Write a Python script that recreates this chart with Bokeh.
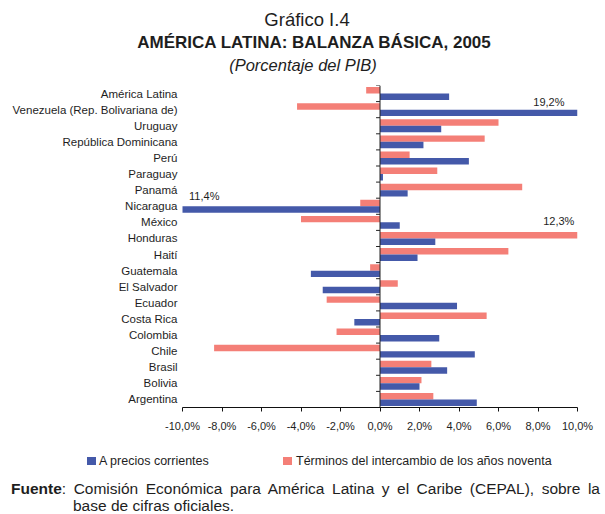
from bokeh.plotting import figure
from bokeh.layouts import column
from bokeh.models import Range1d, FixedTicker, Span, Label, ColumnDataSource, Div
from bokeh.embed import file_html
from bokeh.resources import INLINE

# ---------------- data ----------------
categories = ["América Latina", "Venezuela (Rep. Bolivariana de)", "Uruguay", "República Dominicana",
              "Perú", "Paraguay", "Panamá", "Nicaragua", "México", "Honduras", "Haití", "Guatemala",
              "El Salvador", "Ecuador", "Costa Rica", "Colombia", "Chile", "Brasil", "Bolivia", "Argentina"]
corrientes = [3.5, 19.2, 3.1, 2.2, 4.5, 0.15, 1.4, -11.4, 1.0, 2.8, 1.9, -3.5, -2.9, 3.9, -1.3, 3.0, 4.8, 3.4, 2.0, 4.9]
terminos = [-0.7, -4.2, 6.0, 5.3, 1.5, 2.9, 7.2, -1.0, -4.0, 12.3, 6.5, -0.5, 0.9, -2.7, 5.4, -2.2, -8.4, 2.6, 2.1, 2.7]
series_names = ["A precios corrientes", "Términos del intercambio de los años noventa"]
x_ticks = [-10, -8, -6, -4, -2, 0, 2, 4, 6, 8, 10]
x_tick_labels = ["-10,0%", "-8,0%", "-6,0%", "-4,0%", "-2,0%", "0,0%", "2,0%", "4,0%", "6,0%", "8,0%", "10,0%"]

title_lines = ["Gráfico I.4", "AMÉRICA LATINA: BALANZA BÁSICA, 2005", "(Porcentaje del PIB)"]
source_head = "Fuente"
source_lines = ["Comisión Económica para América Latina y el Caribe (CEPAL), sobre la",
                "base de cifras oficiales."]

# ---------------- style ----------------
BLUE = "#4459A9"
RED = "#F47F77"
FONT = "Liberation Sans"
TXT = "#1e1e1e"

W = 605
TOP_H = 85
FRAME_L, FRAME_W, FRAME_H = 182, 395, 322
MAIN_H = 355
BOT_H = 514 - TOP_H - MAIN_H


def line_div(left, top, width, size, text, align="left", extra=""):
    return ('<div style="position:absolute;left:%dpx;top:%.1fpx;width:%dpx;font-size:%spx;'
            'line-height:%spx;text-align:%s;white-space:nowrap;%s">%s</div>'
            % (left, top, width, size, size, align, extra, text))


def strip(h, inner):
    html = ('<div style="position:relative;width:%dpx;height:%dpx;overflow:hidden;'
            'font-family:\'%s\';color:%s;">%s</div>' % (W, h, FONT, TXT, inner))
    return Div(text=html, width=W, height=h, margin=0)


# ---------------- title strip ----------------
# top = baseline - 0.846 * font size (line-height = 1em)
top_inner = (
    line_div(7, 27 - 0.846 * 18.5, 600, 18.5, title_lines[0], "center") +
    line_div(14, 48.5 - 0.846 * 17, 600, 17, title_lines[1], "center", "font-weight:bold;") +
    line_div(3, 71 - 0.846 * 16.5, 600, 16.5, title_lines[2], "center", "font-style:italic;")
)
top = strip(TOP_H, top_inner)

# ---------------- main chart ----------------
n = len(categories)
idx = list(range(n))

p = figure(width=W, height=MAIN_H, output_backend="svg", toolbar_location=None,
           x_range=Range1d(-10, 10), y_range=Range1d(n - 0.5, -0.5),
           min_border_left=FRAME_L, min_border_top=0,
           min_border_right=W - FRAME_L - FRAME_W, min_border_bottom=MAIN_H - FRAME_H)
p.outline_line_color = None
p.grid.visible = False
p.background_fill_color = "white"
p.border_fill_color = "white"

src = ColumnDataSource(dict(
    y_red=[i - 0.2 for i in idx], y_blue=[i + 0.2 for i in idx],
    ter=terminos, cor=corrientes))
r_red = p.hbar(y="y_red", left=0, right="ter", height=0.4, fill_color=RED, line_color=None, source=src)
r_blue = p.hbar(y="y_blue", left=0, right="cor", height=0.4, fill_color=BLUE, line_color=None, source=src)

p.add_layout(Span(location=0, dimension="height", line_color="#222222", line_width=1))
bounds = [i - 0.5 for i in range(n + 1)]
p.segment(x0=[-0.2] * len(bounds), x1=[0] * len(bounds), y0=bounds, y1=bounds,
          line_color="#222222", line_width=1)

ya = p.yaxis[0]
ya.ticker = FixedTicker(ticks=idx)
ya.major_label_overrides = {i: c for i, c in zip(idx, categories)}
ya.axis_line_color = None
ya.major_tick_line_color = None
ya.major_tick_out = 0
ya.major_tick_in = 0
ya.minor_tick_line_color = None
ya.major_label_standoff = 5
ya.major_label_text_font = FONT
ya.major_label_text_font_size = "11.5px"
ya.major_label_text_color = TXT

xa = p.xaxis[0]
xa.ticker = FixedTicker(ticks=x_ticks)
xa.major_label_overrides = {t: l for t, l in zip(x_ticks, x_tick_labels)}
xa.axis_line_color = "#111111"
xa.major_tick_line_color = "#111111"
xa.major_tick_out = 4
xa.major_tick_in = 0
xa.minor_tick_line_color = None
xa.major_label_standoff = 8
xa.major_label_text_font = FONT
xa.major_label_text_font_size = "11px"
xa.major_label_text_color = TXT


def pct(v):
    return ("%.1f" % abs(v)).replace(".", ",") + "%"


off_labels = [
    (8.55, categories.index("Venezuela (Rep. Bolivariana de)") - 0.46, corrientes[1]),
    (9.05, categories.index("Honduras") - 1.07, terminos[9]),
    (-8.9, categories.index("Nicaragua") - 0.62, corrientes[7]),
]
for xv, yv, v in off_labels:
    p.add_layout(Label(x=xv, y=yv, text=pct(v), text_align="center", text_baseline="middle",
                       text_font=FONT, text_font_size="11px", text_color=TXT))

# ---------------- legend + source strip ----------------
Y0 = TOP_H + MAIN_H  # page y of this strip's top


def swatch(left, top, color):
    return ('<div style="position:absolute;left:%dpx;top:%dpx;width:9px;height:8px;background:%s;"></div>'
            % (left, top, color))


bot_inner = (
    swatch(87, 457 - Y0, BLUE) +
    line_div(99, 465.5 - Y0 - 0.846 * 12.5, 200, 12.5, series_names[0]) +
    swatch(283, 457 - Y0, RED) +
    line_div(296, 465.5 - Y0 - 0.846 * 12.5, 300, 12.5, series_names[1]) +
    line_div(11, 494 - Y0 - 0.846 * 15.5, 589, 15.5,
             "<b>%s</b>: %s" % (source_head, source_lines[0]), "justify",
             "text-align-last:justify;white-space:normal;") +
    line_div(73, 511 - Y0 - 0.846 * 15.5, 500, 15.5, source_lines[1])
)
bot = strip(BOT_H, bot_inner)

layout = column(top, p, bot, spacing=0)
open("out.html", "w").write(file_html(layout, INLINE))
